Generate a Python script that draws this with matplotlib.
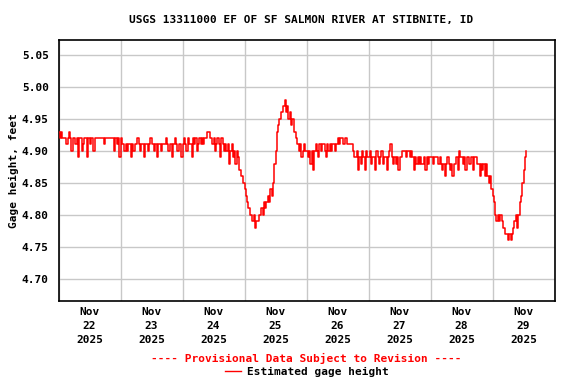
import numpy as np
import pandas as pd
import matplotlib
matplotlib.use("Agg")
import matplotlib.pyplot as plt
import matplotlib.dates as mdates
from matplotlib.lines import Line2D

# Gage height readings (hundredths of a foot above 4.00 ft), every 30 minutes from Nov 22 00:00
day_nov22 = [93, 92, 93, 92,
             92, 92, 91, 92, 93,
             92, 90, 92, 92, 91, 92, 89, 92, 92, 90, 91, 92, 92, 89, 92, 91, 92, 92, 90, 92, 92,
             92, 92, 92, 92, 92, 91, 92, 92, 92, 92, 92, 92,
             92, 90, 92, 91, 92, 89]
day_nov23 = [92, 91, 91, 90,
             91, 90, 91, 91, 89, 91, 90, 91, 91, 92, 91, 90, 91, 91, 89, 91, 91, 90, 91, 92, 91, 91, 90, 91, 89, 91, 91, 90, 91, 91,
             91, 92, 91, 90, 91, 91, 89, 91, 92, 91, 90, 91, 91, 89]
day_nov24 = [91, 92, 91, 90, 92, 91, 91, 89, 92, 91, 92, 90, 91, 92, 91, 92, 91, 92,
             92, 93, 93, 92,
             92, 91, 92, 90, 91, 92, 91, 89, 92, 91, 90,
             91, 90, 91, 88, 90, 91, 89, 90, 88, 90,
             89, 87, 86, 86, 85]
day_nov25 = [84, 83, 82, 81,
             80, 80, 79, 80, 78, 79,
             79, 80, 80, 81, 80, 82, 81, 82,
             83, 82, 84, 83,
             85, 88, 90, 93,
             94, 95, 96, 96,
             97, 98,
             96, 97, 95, 96,
             94, 95, 93, 93,
             92, 91, 90, 91, 89, 90, 91, 90]
day_nov26 = [90, 89, 90, 88, 90, 87,
             90, 91, 90, 89, 91, 90, 91, 91, 90, 89, 91, 90, 91, 90, 91, 91, 90, 91,
             92, 91, 92, 92,
             91, 91, 92, 91, 91, 91, 91, 91,
             90, 89,
             89, 90, 87, 89, 88, 90, 89, 87, 90, 89]
day_nov27 = [89, 90, 88, 89, 89, 87, 90, 89, 88, 89, 90, 88, 89, 89, 87, 89, 90, 91, 89, 88,
             89, 88, 89, 87, 89, 89, 90,
             90, 90, 89, 90, 90, 89, 90,
             89, 87, 89, 88,
             89, 88, 89, 88, 88, 89, 87, 89, 88, 89]
day_nov28 = [89, 89, 88, 89, 89, 89, 88, 89,
             88, 87, 88, 86, 88, 89, 88, 87, 88, 86, 88, 88, 89, 87,
             90, 89,
             89, 88, 89, 87, 89, 89, 88, 89, 89, 87, 89, 89,
             88, 88, 86, 88, 87, 88, 86, 88,
             86, 85, 86, 84]
day_nov29 = [83, 82, 80, 79, 80, 79, 80, 79, 78, 78, 77, 77, 76, 77, 76,
             77, 78, 79, 80, 78, 80, 82, 83, 85, 87, 89, 90]

hundredths = day_nov22 + day_nov23 + day_nov24 + day_nov25 + day_nov26 + day_nov27 + day_nov28 + day_nov29
gage_height = 4.0 + np.array(hundredths) / 100.0
times = pd.date_range("2025-11-22 00:00", periods=len(gage_height), freq="30min")

tick_days = pd.date_range("2025-11-22 12:00", periods=8, freq="1D")
tick_labels = [f"Nov\n{d.day}\n{d.year}" for d in tick_days]
y_ticks = [4.70, 4.75, 4.80, 4.85, 4.90, 4.95, 5.00, 5.05]

plt.rcParams['font.family'] = ['DejaVu Sans Mono']
plt.rcParams['font.weight'] = 'bold'

fig = plt.figure(figsize=(5.76, 3.84), dpi=100)
W, H = 576, 384
left, right, top, bottom = 58.5, 554.5, 40, 300.5
ax = fig.add_axes([left / W, 1 - bottom / H, (right - left) / W, (bottom - top) / H])

ax.plot(times, gage_height, color="#FF0000", lw=1.1, drawstyle="steps-post", zorder=3)

ax.set_xlim(pd.Timestamp("2025-11-22"), pd.Timestamp("2025-11-30"))
ax.set_ylim(4.666, 5.0733)

ax.set_xticks(tick_days)
ax.set_xticklabels(tick_labels, fontsize=8, fontweight='bold', linespacing=1.5)
ax.xaxis.set_minor_locator(mdates.DayLocator())
ax.set_yticks(y_ticks)
ax.set_yticklabels([f"{v:.2f}" for v in y_ticks], fontsize=8, fontweight='bold')
ax.tick_params(axis='both', which='both', length=0)
ax.tick_params(axis='x', pad=5)
ax.tick_params(axis='y', pad=7)

ax.grid(False)
ax.grid(which='minor', axis='x', color='#C8C8C8', lw=1.0)
ax.grid(which='major', axis='y', color='#C8C8C8', lw=1.0)
ax.set_axisbelow(True)
for s in ax.spines.values():
    s.set_linewidth(1.2)
    s.set_color('black')

ax.set_ylabel("Gage height, feet", fontsize=8, fontweight='bold', labelpad=2)

fig.text(0.5 * (128 + 474) / W, 1 - 20 / H, "USGS 13311000 EF OF SF SALMON RIVER AT STIBNITE, ID",
         ha='center', va='center', fontsize=8, fontweight='bold')
fig.text(306 / W, 1 - 358 / H, "---- Provisional Data Subject to Revision ----",
         ha='center', va='center', fontsize=8, fontweight='bold', color='#FF0000')
fig.add_artist(Line2D([225 / W, 241 / W], [1 - 371 / H, 1 - 371 / H], color='#FF0000', lw=1.0))
fig.text(247 / W, 1 - 372 / H, "Estimated gage height",
         ha='left', va='center', fontsize=8, fontweight='bold')

fig.savefig("out.png", dpi=100)
